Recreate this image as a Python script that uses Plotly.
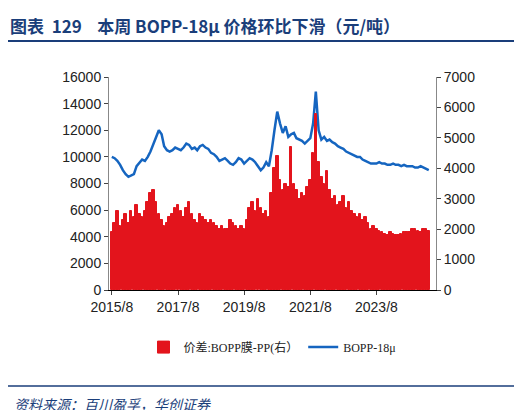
import pandas as pd
import plotly.graph_objects as go

dates = pd.date_range("2015-08-01", "2025-05-01", freq="MS")

# BOPP-18μ 价格 (元/吨, 左轴)
bopp = [10000, 9900, 9700, 9400, 9000, 8700, 8500, 8600, 8700, 9300, 9600, 9800,
        9700, 10000, 10400, 10900, 11500, 12000, 11700, 10800, 10500, 10400, 10500, 10700,
        10600, 10500, 10700, 11000, 10900, 10600, 10700, 10500, 10800, 10900, 10700, 10600,
        10300, 10200, 10000, 9700, 9800, 9900, 9700, 9500, 9400, 9600, 9900, 9800,
        9500, 9700, 9900, 9800, 9600, 9300, 9000, 9200, 9600, 9300, 10500, 12000,
        13400, 12500, 11800, 12300, 11500, 11700, 11800, 11400, 11300, 11200, 11000, 11200,
        11400, 12500, 14900, 12000, 11300, 11500, 11200, 11300, 11100, 11000, 10800, 10700,
        10600, 10400, 10300, 10200, 10100, 10000, 10000, 9800, 9700, 9600, 9500, 9500,
        9500, 9600, 9500, 9500, 9400, 9400, 9500, 9400, 9400, 9300, 9400, 9300,
        9300, 9300, 9200, 9200, 9300, 9200, 9100, 9000]

# 价差:BOPP膜-PP (元/吨, 右轴)
spread = [1900, 2200, 2600, 2100, 2300, 2500, 2200, 2600, 2400, 2800, 2500, 2400,
          2600, 2900, 3200, 3300, 2900, 2500, 2300, 2100, 2200, 2400, 2500, 2700,
          2800, 2600, 2400, 2700, 2900, 2500, 2300, 2200, 2500, 2400, 2300, 2200,
          2300, 2200, 2100, 2000, 2100, 2000, 2000, 2300, 2200, 2100, 2000, 2100,
          2000, 2300, 2700, 2900, 2600, 3000, 2700, 2500, 2600, 2400, 3200, 4000,
          4400, 3600, 3300, 3500, 3400, 4700, 3500, 3300, 3000, 3200, 3100, 3400,
          3600, 4500, 5800, 4200, 3700, 3500, 3900, 3300, 3000, 3100, 2800, 2900,
          3100, 2700, 2900, 2600, 2500, 2400, 2500, 2300, 2400, 2200, 2000, 2100,
          2000, 1950, 1900, 1850, 1800, 1900, 1850, 1800, 1800, 1850, 1900, 1900,
          1900, 2000, 2000, 1950, 1900, 2000, 2000, 1950]

tickvals = pd.to_datetime(["2015-08-01", "2017-08-01", "2019-08-01", "2021-08-01", "2023-08-01"])
ticktext = ["2015/8", "2017/8", "2019/8", "2021/8", "2023/8"]

fig = go.Figure()
fig.add_trace(go.Bar(x=dates, y=spread, name="价差:BOPP膜-PP(右）", yaxis="y2",
                     marker=dict(color="#e3141c", line=dict(width=1, color="#e3141c"))))
fig.add_trace(go.Scatter(x=dates, y=bopp, name="BOPP-18μ", mode="lines",
                         line=dict(color="#1565c0", width=2.5)))

axfont = dict(family="Liberation Sans, Arial", size=14, color="#222")
fig.update_layout(
    width=522, height=410,
    margin=dict(l=101, r=94, t=69, b=128, autoexpand=False),
    paper_bgcolor="white", plot_bgcolor="white",
    bargap=0,
    showlegend=True,
    legend=dict(orientation="h", x=0.5, xanchor="center", y=-0.2, yanchor="top",
                font=dict(family="Liberation Serif, Noto Sans CJK SC", size=12, color="#222"),
                traceorder="normal"),
    xaxis=dict(range=[pd.Timestamp("2015-07-01"), pd.Timestamp("2025-05-20")],
               tickvals=tickvals, ticktext=ticktext, tickfont=axfont,
               showline=True, linecolor="black", ticks="outside", ticklen=4, showgrid=False),
    yaxis=dict(range=[0, 16000], dtick=2000, tickformat="d", tickfont=axfont, showline=True,
               linecolor="#888", ticks="outside", ticklen=4, showgrid=False, zeroline=False),
    yaxis2=dict(range=[0, 7000], dtick=1000, tickformat="d", tickfont=axfont, overlaying="y",
                side="right", showline=True, linecolor="#888", ticks="outside", ticklen=4,
                showgrid=False, zeroline=False),
)
fig.add_annotation(text="<b>图表  129    本周 BOPP-18μ 价格环比下滑（元/吨）</b>",
                   xref="paper", yref="paper", x=-101/327, y=1 + 52/213, xanchor="left",
                   yanchor="middle", showarrow=False,
                   font=dict(family="Noto Sans CJK SC", size=17, color="#1a3e7a"))
fig.add_annotation(text="<i>资料来源：百川盈孚，华创证券</i>",
                   xref="paper", yref="paper", x=-97/327, y=-(396 - 282) / 213,
                   xanchor="left", yanchor="middle", showarrow=False,
                   font=dict(family="Noto Sans CJK SC", size=14, color="#1a3e7a"))
fig.add_shape(type="line", xref="paper", yref="paper", x0=-101/327, x1=1 + 90/327,
              y0=1 + 36/213, y1=1 + 36/213, line=dict(color="#1a3e7a", width=2))
fig.add_shape(type="line", xref="paper", yref="paper", x0=-101/327, x1=1 + 94/327,
              y0=-(378 - 282) / 213, y1=-(378 - 282) / 213, line=dict(color="#1a3e7a", width=1.5))

fig.write_html("out.html")
